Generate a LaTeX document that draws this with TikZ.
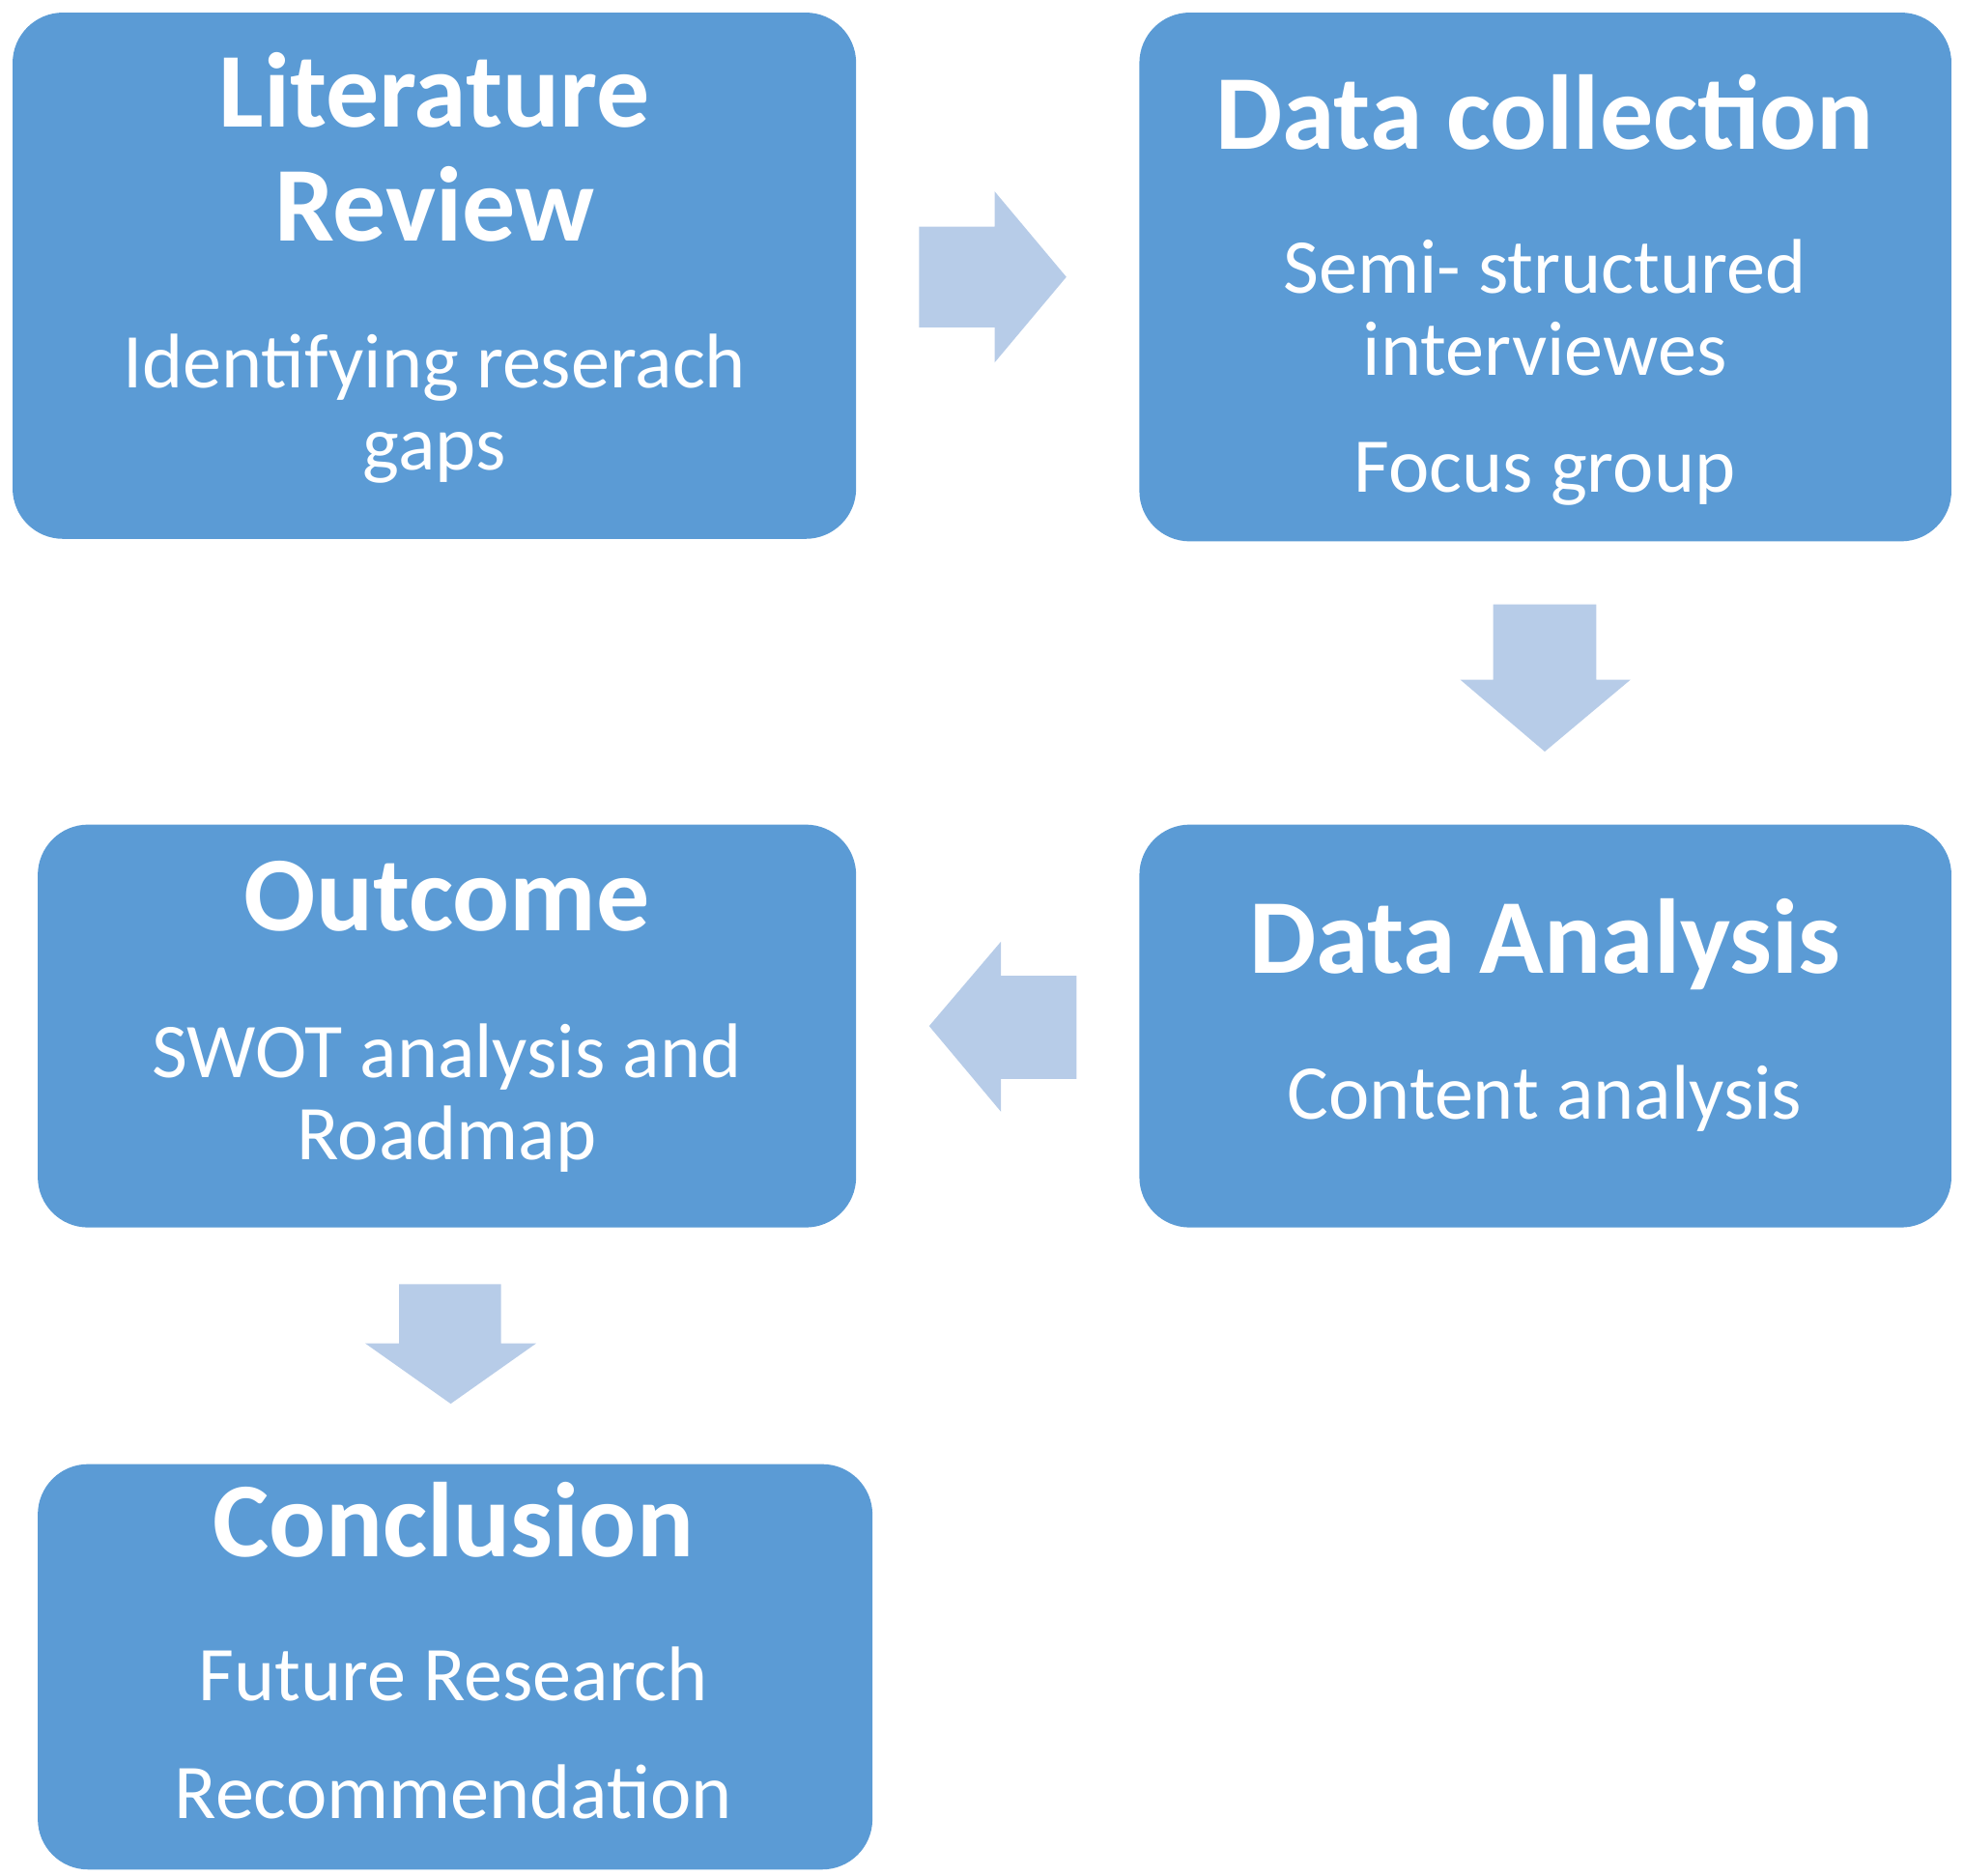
\documentclass[tikz,border=0pt]{standalone}
\usepackage{fontspec}
\setmainfont{Carlito}
\definecolor{boxc}{HTML}{5B9BD5}
\definecolor{arrc}{HTML}{B7CCE8}
\begin{document}
\begin{tikzpicture}[x=0.01cm,y=-0.01cm,
  box/.style={fill=boxc,draw=none,rounded corners=0.4cm},
  ttl/.style={text=white,font=\fontsize{24}{26}\selectfont\bfseries,inner sep=0pt,text height=0.64em,text depth=0pt},
  bdy/.style={text=white,font=\fontsize{17.5}{19}\selectfont,inner sep=0pt,text height=0.64em,text depth=0pt},
  arr/.style={fill=arrc,draw=none}]
\useasboundingbox (0,0) rectangle (1560,1490);
\fill[box] (10,10) rectangle (680,428);
\fill[box] (905,10) rectangle (1550,430);
\fill[box] (30,655) rectangle (680,975);
\fill[box] (905,655) rectangle (1550,975);
\fill[box] (30,1163) rectangle (693,1485);
% texts
\node[ttl] (t1a) at (345,90) {Literature};
\node[ttl] (t1b) at (345,180) {Review};
\node[bdy] (b1a) at (345,297) {Identifying reserach};
\node[bdy] (b1b) at (345,362) {gaps};
\node[ttl] (t2) at (1227,107) {Data collection};
\node[bdy] (b2a) at (1227,222) {Semi- structured};
\node[bdy] (b2b) at (1227,287) {interviewes};
\node[bdy] (b2c) at (1227,380) {Focus group};
\node[ttl] (t3) at (355,728) {Outcome};
\node[bdy] (b3a) at (355,845) {SWOT analysis and};
\node[bdy] (b3b) at (355,910) {Roadmap};
\node[ttl] (t4) at (1227,762) {Data Analysis};
\node[bdy] (b4) at (1227,878) {Content analysis};
\node[ttl] (t5) at (360,1225) {Conclusion};
\node[bdy] (b5a) at (360,1340) {Future Research};
\node[bdy] (b5b) at (360,1433) {Recommendation};
% block arrows
\fill[arr] (730,180) -- (790,180) -- (790,152) -- (847,220) -- (790,288) -- (790,260) -- (730,260) -- cycle;
\fill[arr] (1186,480) -- (1268,480) -- (1268,540) -- (1295,540) -- (1227,597) -- (1160,540) -- (1186,540) -- cycle;
\fill[arr] (855,775) -- (795,775) -- (795,748) -- (738,815) -- (795,883) -- (795,857) -- (855,857) -- cycle;
\fill[arr] (317,1020) -- (398,1020) -- (398,1067) -- (426,1067) -- (358,1115) -- (290,1067) -- (317,1067) -- cycle;
\end{tikzpicture}
\end{document}
